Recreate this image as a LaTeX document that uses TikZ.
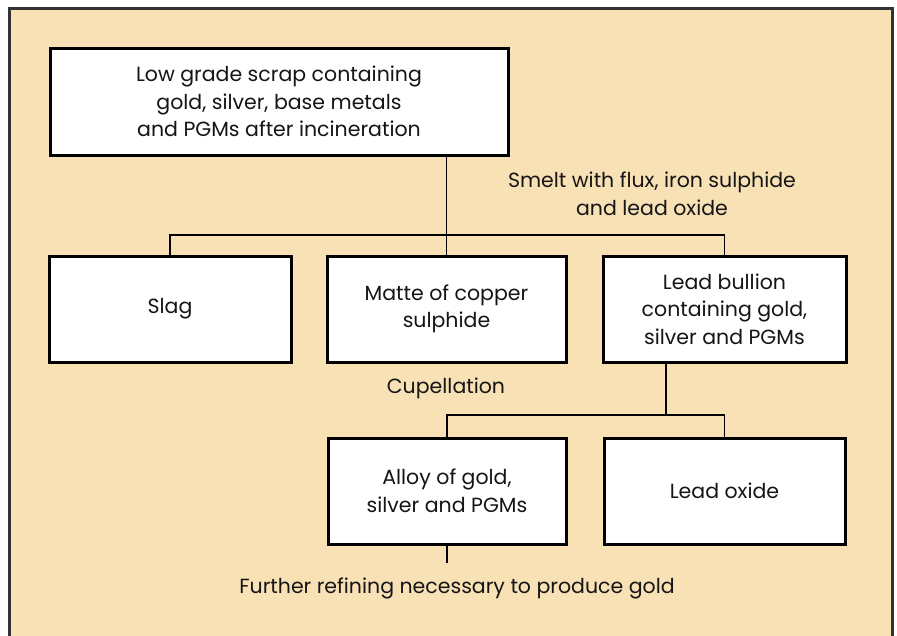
\documentclass[tikz,border=0pt]{standalone}
\usepackage{fontspec}
\setmainfont{Poppins}
\usetikzlibrary{calc}
\definecolor{panel}{HTML}{F9E1B6}
\definecolor{rim}{HTML}{333333}
\definecolor{ink}{HTML}{151515}
\tikzset{
  stage/.style={draw=black, line width=3pt, fill=white, text=ink,
    align=center, inner sep=0pt,
    font=\fontsize{20.5}{27.5}\selectfont},
  note/.style={text=ink, align=center, inner sep=0pt,
    font=\fontsize{20.5}{28}\selectfont},
  link/.style={draw=black, line width=1.4pt}
}
\begin{document}
\begin{tikzpicture}[x=1pt,y=-1pt]
  \useasboundingbox (0,0) rectangle (897,635);
  % outer panel
  \draw[fill=panel, draw=rim, line width=3pt] (9,8) rectangle (892,660);

  % process stages
  \node[stage, minimum width=458pt, minimum height=107pt] (scrap) at (279,101.5)
    {Low grade scrap containing\\gold, silver, base metals\\and PGMs after incineration};
  \node[stage, minimum width=242pt, minimum height=106pt] (slag) at (170,309) {Slag};
  \node[stage, minimum width=239pt, minimum height=106pt] (matte) at (446.5,309)
    {Matte of copper\\sulphide};
  \node[stage, minimum width=243pt, minimum height=106pt] (bullion) at (724.5,309)
    {Lead bullion\\containing gold,\\silver and PGMs};
  \node[stage, minimum width=238pt, minimum height=106pt] (alloy) at (447,491)
    {Alloy of gold,\\silver and PGMs};
  \node[stage, minimum width=241pt, minimum height=106pt] (leadox) at (724.5,491)
    {Lead oxide};

  % process notes
  \node[note] (smelt) at (652,194) {Smelt with flux, iron sulphide\\and lead oxide};
  \node[note] (cupel) at (446,388) {Cupellation};
  \node[note] (further) at (457,588) {Further refining necessary to produce gold};

  % branch points
  \coordinate (bar1) at (447,235);
  \coordinate (bar2) at (666,415);
  \coordinate (tail) at (447,563);

  % connectors
  \draw[link] (scrap.south -| matte.north) -- (matte.north);
  \draw[link] (slag.north) -- (slag.north |- bar1) -- (bullion.north |- bar1) -- (bullion.north);
  \draw[link] (bar2 |- bullion.south) -- (bar2);
  \draw[link] (alloy.north) -- (alloy.north |- bar2) -- (leadox.north |- bar2) -- (leadox.north);
  \draw[link] (alloy.south) -- (tail);
\end{tikzpicture}
\end{document}
